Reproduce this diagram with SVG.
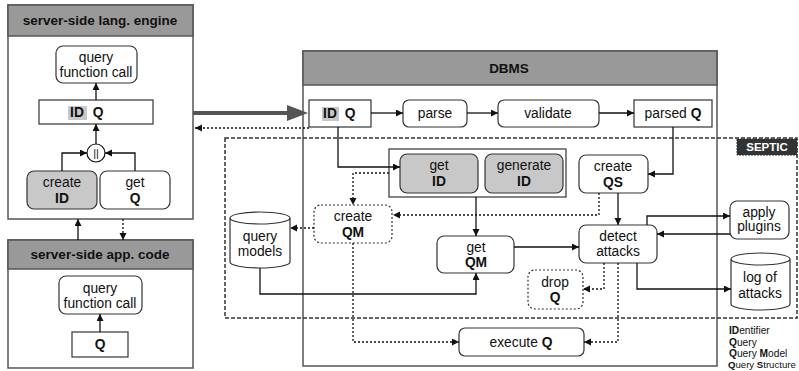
<svg xmlns="http://www.w3.org/2000/svg" width="799" height="371" viewBox="0 0 799 371">
<defs>
<marker id="a" markerUnits="userSpaceOnUse" markerWidth="8" markerHeight="8" refX="7" refY="3.5" orient="auto"><path d="M0,0 L7,3.5 L0,7 z" fill="#111"/></marker>
<style>
text{font-family:"Liberation Sans",Arial,sans-serif;font-size:13.8px;fill:#111;text-anchor:middle}
.b{font-weight:bold}
.h{font-weight:bold;font-size:13.5px}
.frame{fill:#fff;stroke:#555;stroke-width:1.5}
.head{fill:#999;stroke:#555;stroke-width:1.5}
.n{fill:#fff;stroke:#333;stroke-width:1.2}
.g{fill:#c8c8c8;stroke:#333;stroke-width:1.2}
.d{fill:#fff;stroke:#333;stroke-width:1.2;stroke-dasharray:2,2}
.c{fill:none;stroke:#111;stroke-width:1.3}
.cd{fill:none;stroke:#111;stroke-width:1.3;stroke-dasharray:2,2}
.hl{fill:#c8c8c8}
.lg{font-size:10.2px;text-anchor:start}
</style>
</defs>

<!-- frames -->
<g id="lang-engine">
<rect class="frame" x="8" y="5" width="185" height="214"/>
<rect class="head" x="8" y="5" width="185" height="31"/>
<text class="h" x="100" y="25">server-side lang. engine</text>
</g>
<g id="app-code">
<rect class="frame" x="8" y="240" width="185" height="128"/>
<rect class="head" x="8" y="240" width="185" height="29"/>
<text class="h" x="100" y="259">server-side app. code</text>
</g>
<g id="dbms">
<rect class="frame" x="303" y="51" width="414" height="315"/>
<rect class="head" x="303" y="51" width="414" height="34"/>
<text class="h" x="509" y="73">DBMS</text>
</g>
<g id="septic">
<rect x="225" y="138" width="572" height="180" fill="none" stroke="#333" stroke-width="1.5" stroke-dasharray="4,2"/>
<rect x="737" y="139" width="60" height="16" fill="#333" stroke="#333" stroke-dasharray="2,1"/>
<text x="767" y="151" class="b" style="font-size:11.5px;fill:#fff">SEPTIC</text>
</g>

<!-- lang engine nodes -->
<g id="le-qfc"><rect class="n" x="56" y="46" width="81" height="37" rx="7"/><text x="96" y="62">query</text><text x="96" y="77">function call</text></g>
<g id="le-idq"><rect class="n" x="39" y="100" width="114" height="24"/><rect class="hl" x="68" y="106" width="19" height="14"/><text class="b" x="77" y="117">ID</text><text class="b" x="98" y="117">Q</text></g>
<g id="le-concat"><circle cx="96" cy="153" r="9" fill="#fff" stroke="#111" stroke-width="1.2"/><text x="96" y="157" style="font-size:11px">||</text></g>
<g id="le-createid"><rect class="g" x="27" y="171" width="70" height="38" rx="7"/><text x="62" y="187">create</text><text class="b" x="62" y="203">ID</text></g>
<g id="le-getq"><rect class="n" x="100" y="171" width="70" height="38" rx="7"/><text x="135" y="187">get</text><text class="b" x="135" y="203">Q</text></g>

<!-- app code nodes -->
<g id="ac-qfc"><rect class="n" x="59" y="276" width="83" height="38" rx="7"/><text x="100" y="293">query</text><text x="100" y="308">function call</text></g>
<g id="ac-q"><rect class="n" x="72" y="332" width="56" height="25"/><text class="b" x="100" y="349">Q</text></g>

<!-- DBMS nodes -->
<g id="db-idq"><rect class="n" x="309" y="100" width="62" height="27"/><rect class="hl" x="322" y="107" width="17" height="14"/><text class="b" x="330" y="118">ID</text><text class="b" x="350" y="118">Q</text></g>
<g id="parse"><rect class="n" x="403" y="100" width="64" height="27" rx="6"/><text x="435" y="118">parse</text></g>
<g id="validate"><rect class="n" x="498" y="100" width="101" height="27" rx="6"/><text x="548" y="118">validate</text></g>
<g id="parsedq"><rect class="n" x="634" y="100" width="78" height="27"/><text x="673" y="118">parsed <tspan class="b">Q</tspan></text></g>
<g id="id-group"><rect class="n" x="389" y="149" width="177" height="48"/></g>
<g id="getid"><rect class="g" x="400" y="154" width="78" height="39" rx="7"/><text x="439" y="170">get</text><text class="b" x="439" y="186">ID</text></g>
<g id="genid"><rect class="g" x="485" y="154" width="78" height="39" rx="7"/><text x="524" y="170">generate</text><text class="b" x="524" y="186">ID</text></g>
<g id="createqs"><rect class="n" x="579" y="155" width="69" height="38" rx="7"/><text x="613" y="171">create</text><text class="b" x="613" y="187">QS</text></g>
<g id="createqm"><rect class="d" x="314" y="205" width="78" height="38" rx="7"/><text x="353" y="221">create</text><text class="b" x="353" y="237">QM</text></g>
<g id="querymodels"><path class="n" d="M230,218 A30,6 0 0 1 290,218 V262 A30,6 0 0 1 230,262 Z M230,218 A30,6 0 0 0 290,218"/><text x="260" y="241">query</text><text x="260" y="256">models</text></g>
<g id="getqm"><rect class="n" x="437" y="236" width="77" height="37" rx="7"/><text x="476" y="252">get</text><text class="b" x="476" y="267">QM</text></g>
<g id="detect"><rect class="n" x="579" y="225" width="78" height="38" rx="7"/><text x="618" y="241">detect</text><text x="618" y="256">attacks</text></g>
<g id="plugins"><rect class="n" x="730" y="201" width="59" height="38" rx="7"/><text x="759" y="217">apply</text><text x="759" y="231">plugins</text></g>
<g id="log"><path class="n" d="M731,259 A29.5,6 0 0 1 790,259 V304 A29.5,6 0 0 1 731,304 Z M731,259 A29.5,6 0 0 0 790,259"/><text x="760" y="282">log of</text><text x="760" y="298">attacks</text></g>
<g id="dropq"><rect class="d" x="528" y="270" width="55" height="39" rx="7"/><text x="555" y="287">drop</text><text class="b" x="555" y="302">Q</text></g>
<g id="executeq"><rect class="n" x="459" y="328" width="125" height="28" rx="6"/><text x="521" y="347">execute <tspan class="b">Q</tspan></text></g>

<!-- legend -->
<g id="legend">
<text class="lg" x="729" y="334"><tspan class="b">ID</tspan>entifier</text>
<text class="lg" x="729" y="346"><tspan class="b">Q</tspan>uery</text>
<text class="lg" x="729" y="357"><tspan class="b">Q</tspan>uery <tspan class="b">M</tspan>odel</text>
<text class="lg" x="728" y="368" style="font-size:9.6px"><tspan class="b">Q</tspan>uery <tspan class="b">S</tspan>tructure</text>
</g>

<!-- connectors -->
<g id="connectors">
<path class="c" marker-end="url(#a)" d="M96,144 V124"/>
<path class="c" marker-end="url(#a)" d="M96,100 V83"/>
<path class="c" marker-end="url(#a)" d="M62,171 V153 H87"/>
<path class="c" marker-end="url(#a)" d="M135,171 V153 H105"/>
<path class="c" marker-end="url(#a)" d="M78,240 V219"/>
<path class="cd" marker-end="url(#a)" d="M123,219 V240"/>
<path class="c" marker-end="url(#a)" d="M100,332 V314"/>
<path class="cd" marker-end="url(#a)" d="M309,128 H195"/>
<line x1="193" y1="113" x2="289" y2="113" stroke="#555" stroke-width="4"/>
<polygon points="287,105 308,113 287,121" fill="#555"/>
<path class="c" marker-end="url(#a)" d="M371,113 H403"/>
<path class="c" marker-end="url(#a)" d="M467,113 H498"/>
<path class="c" marker-end="url(#a)" d="M599,113 H634"/>
<path class="c" marker-end="url(#a)" d="M338,127 V167 H400"/>
<path class="c" marker-end="url(#a)" d="M673,127 V174 H648"/>
<path class="cd" marker-end="url(#a)" d="M389,173 H353 V205"/>
<path class="cd" marker-end="url(#a)" d="M599,193 V215 H393"/>
<path class="c" marker-end="url(#a)" d="M476,197 V236"/>
<path class="cd" marker-end="url(#a)" d="M314,228 H290"/>
<path class="c" marker-end="url(#a)" d="M260,268 V294 H476 V273"/>
<path class="cd" marker-end="url(#a)" d="M353,243 V342 H459"/>
<path class="c" marker-end="url(#a)" d="M514,247 H579"/>
<path class="c" marker-end="url(#a)" d="M618,193 V225"/>
<path class="c" marker-end="url(#a)" d="M647,225 V216 H730"/>
<path class="c" marker-end="url(#a)" d="M730,234 H657"/>
<path class="c" marker-end="url(#a)" d="M637,263 V289 H731"/>
<path class="cd" marker-end="url(#a)" d="M604,263 V289 H583"/>
<path class="cd" marker-end="url(#a)" d="M618,263 V342 H584"/>
</g>
</svg>
